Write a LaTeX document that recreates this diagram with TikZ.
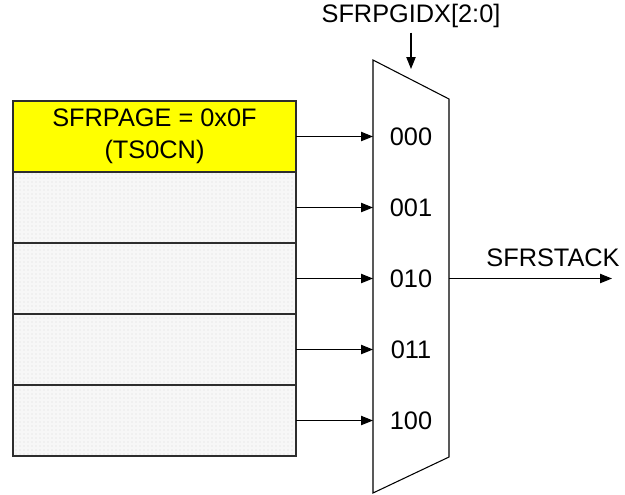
\documentclass[tikz,border=0pt]{standalone}
\usepackage{fontspec}
\setmainfont{Liberation Sans}
\usetikzlibrary{arrows.meta, positioning, calc, patterns}
\definecolor{pageyellow}{RGB}{255,255,0}
\definecolor{rowgray}{RGB}{247,247,247}
\definecolor{edgegray}{RGB}{45,45,45}

\begin{document}
\begin{tikzpicture}[x=0.75pt, y=-0.75pt, every node/.style={font=\fontsize{19}{24}\selectfont},
  row/.style={draw=edgegray, line width=1.5pt, minimum width=212.25pt, minimum height=53.25pt,
    inner sep=0pt, outer sep=0pt, anchor=north west, fill=rowgray},
  feed/.style={-{Triangle[length=9pt, width=7pt]}, line width=0.8pt}]
  \useasboundingbox (0,0) rectangle (625,494);
  % Page table
  \node[row, fill=pageyellow, align=center] (r0) at (13,101) {SFRPAGE = 0x0F\\(TS0CN)};
  \node[row, below=0pt of r0] (r1) {};
  \node[row, below=0pt of r1] (r2) {};
  \node[row, below=0pt of r2] (r3) {};
  \node[row, below=0pt of r3] (r4) {};
  \foreach \r in {1,...,4}
    \fill[pattern=dots, pattern color=gray!30] (r\r.south west) rectangle (r\r.north east);
  \foreach \r in {1,...,4}
    \draw[edgegray, line width=1.5pt] (r\r.south west) rectangle (r\r.north east);
  % Multiplexer
  \coordinate (mtl) at (373,60);
  \coordinate (mtr) at (449,99);
  \coordinate (mbr) at (449,457);
  \coordinate (mbl) at (373,493);
  \draw[line width=0.8pt] (mtl) -- (mtr) -- (mbr) -- (mbl) -- cycle;
  % Inputs
  \foreach \r/\code in {0/000, 1/001, 2/010, 3/011, 4/100} {
    \coordinate (in\r) at (r\r.east -| mtl);
    \node (sel\r) at ($(in\r)+(38,0)$) {\code};
    \draw[feed] (r\r.east) -- (in\r);
  }
  % Select and output
  \node (idx) at (411,16) {SFRPGIDX[2:0]};
  \coordinate (idxend) at (411,69);
  \draw[feed] (idx.south -| idxend) -- (idxend);
  \coordinate (outend) at (r2.east -| 612,0);
  \draw[feed] (in2 -| mtr) -- (outend);
  \node (stack) at (553,258) {SFRSTACK};
\end{tikzpicture}
\end{document}
